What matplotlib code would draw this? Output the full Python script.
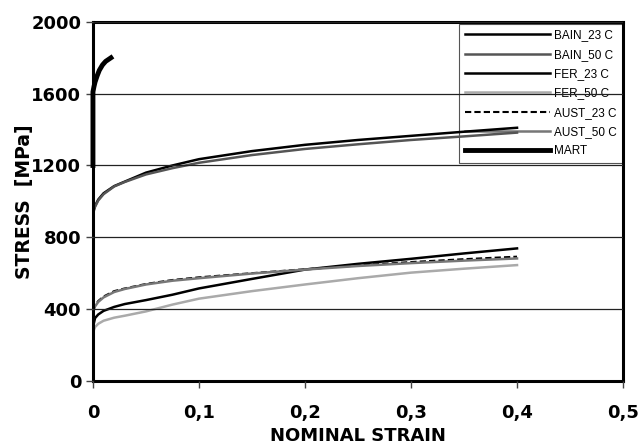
"""Stress-strain curves for bainite, ferrite, austenite and martensite."""

import matplotlib

matplotlib.use("Agg")
import matplotlib.pyplot as plt

plt.rcParams["font.family"] = ["Liberation Sans", "DejaVu Sans"]

strain = [0, 0.002, 0.005, 0.01, 0.02, 0.03, 0.05, 0.075, 0.1, 0.15, 0.2, 0.25, 0.3, 0.35, 0.4]
bain_23 = [940, 975, 1010, 1045, 1085, 1110, 1160, 1200, 1235, 1280, 1315, 1342, 1365, 1388, 1410]
bain_50 = [930, 970, 1005, 1040, 1083, 1108, 1150, 1185, 1215, 1258, 1292, 1318, 1342, 1362, 1383]
fer_23 = [300, 350, 370, 390, 412, 428, 450, 480, 515, 568, 620, 652, 680, 710, 738]
fer_50 = [270, 300, 318, 335, 352, 363, 387, 425, 458, 500, 537, 572, 603, 625, 645]
aust_23 = [390, 420, 445, 470, 500, 515, 540, 562, 577, 600, 622, 643, 662, 678, 692]
aust_50 = [385, 415, 440, 465, 495, 512, 537, 558, 572, 598, 620, 640, 656, 670, 682]

mart_strain = [0, 0, 0.001, 0.002, 0.004, 0.006, 0.009, 0.012, 0.017]
mart = [1200, 1610, 1640, 1665, 1700, 1730, 1760, 1780, 1800]

fig = plt.figure(figsize=(6.41, 4.46), dpi=100)
ax = fig.add_axes([0.145, 0.146, 0.827, 0.805])

ax.plot(strain, bain_23, color="black", lw=1.8, label="BAIN_23 C")
ax.plot(strain, bain_50, color="#555555", lw=1.8, label="BAIN_50 C")
ax.plot(strain, fer_23, color="black", lw=1.8, label="FER_23 C")
ax.plot(strain, fer_50, color="#aaaaaa", lw=1.8, label="FER_50 C")
ax.plot(strain, aust_23, color="black", lw=1.5, ls=(0, (3, 1.5)), label="AUST_23 C")
ax.plot(strain, aust_50, color="#777777", lw=1.8, label="AUST_50 C")
ax.plot(mart_strain, mart, color="black", lw=3.5, label="MART", clip_on=False,
        zorder=3)

ax.set_xlim(0, 0.5)
ax.set_ylim(0, 2000)
ax.set_xticks([0, 0.1, 0.2, 0.3, 0.4, 0.5])
ax.set_xticklabels(["0", "0,1", "0,2", "0,3", "0,4", "0,5"])
ax.set_yticks([0, 400, 800, 1200, 1600, 2000])

ax.set_axisbelow(False)
ax.yaxis.grid(True, color="#222222", lw=0.9)
for spine in ax.spines.values():
    spine.set_linewidth(2.2)
ax.tick_params(direction="out", length=5, width=1, color="#444444",
               labelsize=13)
for lab in ax.get_xticklabels() + ax.get_yticklabels():
    lab.set_fontweight("bold")
    lab.set_family("DejaVu Sans")
ax.tick_params(axis="x", pad=12)

ax.set_xlabel("NOMINAL STRAIN", fontsize=13, fontweight="bold",
              family="DejaVu Sans", labelpad=3.5)
ax.set_ylabel("STRESS  [MPa]", fontsize=13.5, fontweight="bold",
              family="DejaVu Sans")
ax.yaxis.set_label_coords(-0.112, 0.5)

leg = ax.legend(loc="upper right", bbox_to_anchor=(1.0, 0.995), fontsize=8.5,
                handlelength=7.2, handletextpad=0.4, labelspacing=0.62,
                borderpad=0.5, fancybox=False, framealpha=1,
                edgecolor="#555555", borderaxespad=0)
leg.get_frame().set_linewidth(0.8)
leg.set_zorder(0.5)

fig.savefig("out.png", dpi=100)
